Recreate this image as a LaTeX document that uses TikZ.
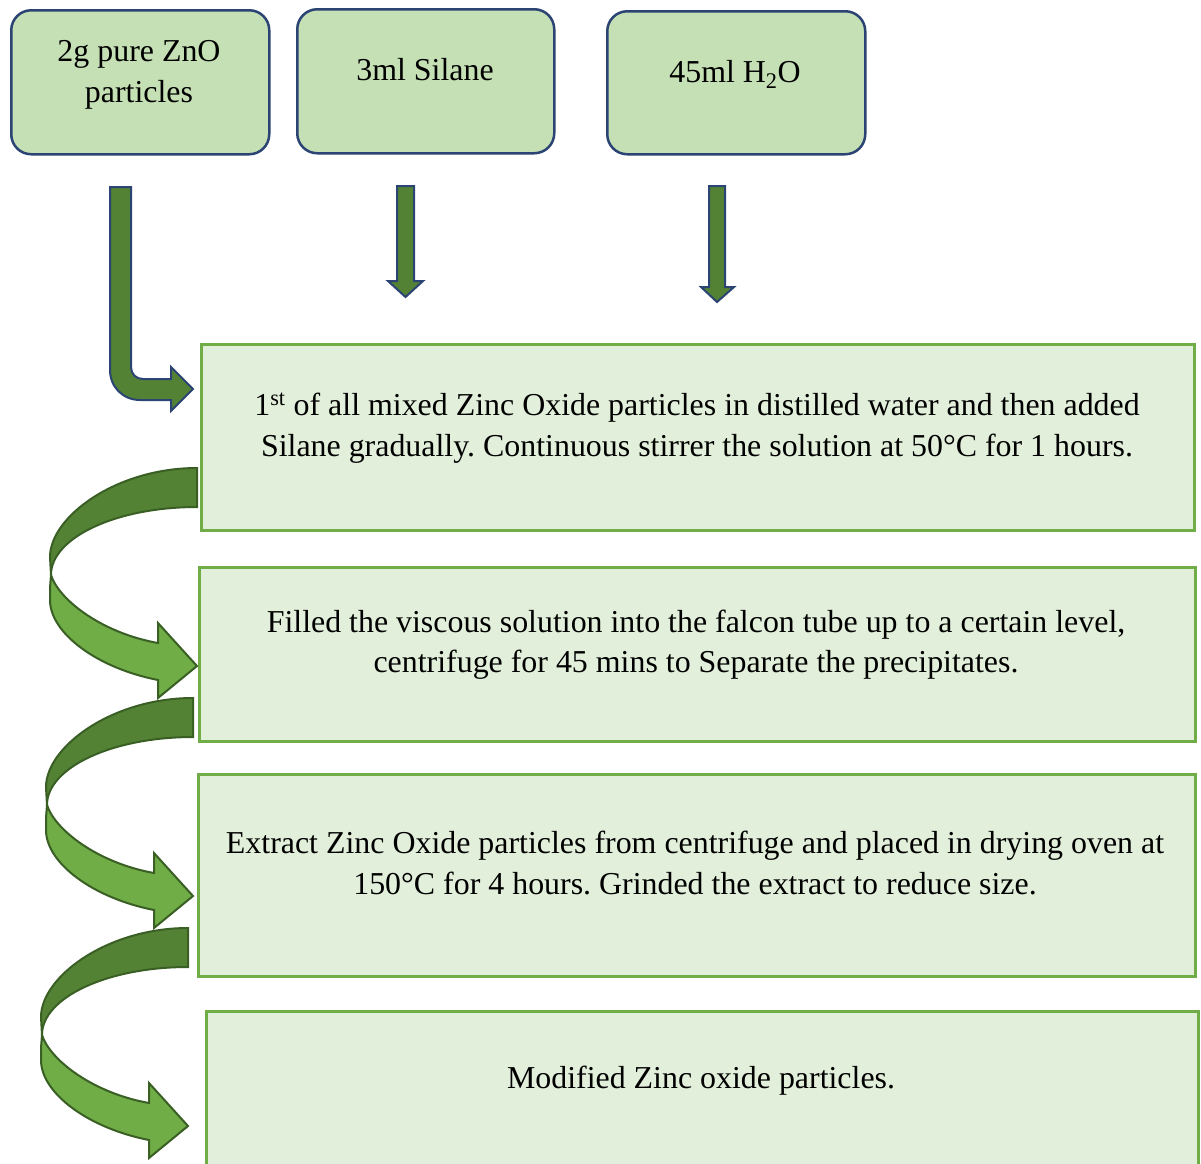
\documentclass[tikz,border=0pt]{standalone}
\usepackage{fontspec}
\setmainfont{Liberation Serif}
\frenchspacing
\definecolor{srcfill}{HTML}{C5E0B4}
\definecolor{navy}{HTML}{2B4473}
\definecolor{procfill}{HTML}{E2EFDA}
\definecolor{procline}{HTML}{70AD47}
\definecolor{darkgreen}{HTML}{548235}
\definecolor{lightgreen}{HTML}{70AD47}
\definecolor{bandline}{HTML}{3A5F24}
\tikzset{
  srcbox/.style={draw=navy, line width=2.5pt, fill=srcfill, rounded corners=20pt, anchor=north west},
  procbox/.style={draw=procline, line width=3pt, fill=procfill, anchor=north west},
  txt/.style={font=\fontsize{31.9}{41}\selectfont\frenchspacing, anchor=base, inner sep=0pt},
  blockarrow/.style={fill=darkgreen, draw=navy, line width=2pt, line join=miter},
  backband/.style={fill=darkgreen, draw=bandline, line width=2pt, line join=miter},
  frontband/.style={fill=lightgreen, draw=bandline, line width=2pt, line join=miter}
}
\newcommand\curvedarrowshape[2]{%
  \begin{scope}[shift={(#1,#2)}]
    \draw[backband] (0,0) .. controls (-81,0) and (-147,49) .. (-147,89)
      -- (-146,107) .. controls (-146,69.5) and (-80.6,39) .. (0,39) -- cycle;
    \draw[frontband] (-146,107) -- (-147,120) -- (-147,132)
      .. controls (-147,165) and (-100,200) .. (-39,212)
      -- (-39,230) -- (0,198) -- (-39,155) -- (-39,175)
      .. controls (-95,165) and (-138,132) .. (-146,107) -- cycle;
  \end{scope}}
\begin{document}
\begin{tikzpicture}[x=1pt,y=-1pt]
\useasboundingbox (0,0) rectangle (1201,1163);
\fill[white] (0,0) rectangle (1201,1163);
% source boxes
\node[srcbox, minimum width=258pt, minimum height=144pt] (srcA) at (10,9) {};
\node[srcbox, minimum width=257pt, minimum height=144pt] (srcB) at (296,8) {};
\node[srcbox, minimum width=258pt, minimum height=143pt] (srcC) at (606,10) {};
\node[txt] (srcAa) at (139,61) {2g pure ZnO};
\node[txt] (srcAb) at (139,102) {particles};
\node[txt] (srcBa) at (425,80) {3ml Silane};
\node[txt] (srcCa) at (735,82) {45ml H\textsubscript{2}O};
% block arrows
\draw[blockarrow] (110,187) -- (131,187) -- (131,367)
  .. controls (131,374) and (136,379) .. (143,379) -- (171,379) -- (171,367)
  -- (193,389) -- (171,411) -- (171,400) -- (140,400)
  .. controls (123,400) and (110,387) .. (110,370) -- cycle;
\draw[blockarrow] (397,186) -- (414,186) -- (414,281) -- (423,281) -- (405.5,297)
  -- (388,281) -- (397,281) -- cycle;
\draw[blockarrow] (709,186) -- (725,186) -- (725,287) -- (734,287) -- (717,302)
  -- (701,287) -- (709,287) -- cycle;
% process boxes
\node[procbox, minimum width=993pt, minimum height=186pt] (p1) at (200,343) {};
\node[procbox, minimum width=996pt, minimum height=174pt] (p2) at (198,566) {};
\node[procbox, minimum width=997pt, minimum height=202pt] (p3) at (197,773) {};
\node[procbox, minimum width=992pt, minimum height=170pt] (p4) at (205,1010) {};
\node[txt] (p1a) at (697,415) {1\textsuperscript{st} of all mixed Zinc Oxide particles in distilled water and then added};
\node[txt] (p1b) at (697,456) {Silane gradually. Continuous stirrer the solution at 50°C for 1 hours.};
\node[txt] (p2a) at (696,632) {Filled the viscous solution into the falcon tube up to a certain level,};
\node[txt] (p2b) at (696,672) {centrifuge for 45 mins to Separate the precipitates.};
\node[txt] (p3a) at (695,853) {Extract Zinc Oxide particles from centrifuge and placed in drying oven at};
\node[txt] (p3b) at (695,894) {150°C for 4 hours. Grinded the extract to reduce size.};
\node[txt] (p4a) at (701,1088) {Modified Zinc oxide particles.};
% curved arrows
\curvedarrowshape{197}{468}
\curvedarrowshape{193}{698}
\curvedarrowshape{188}{928}
\end{tikzpicture}
\end{document}
